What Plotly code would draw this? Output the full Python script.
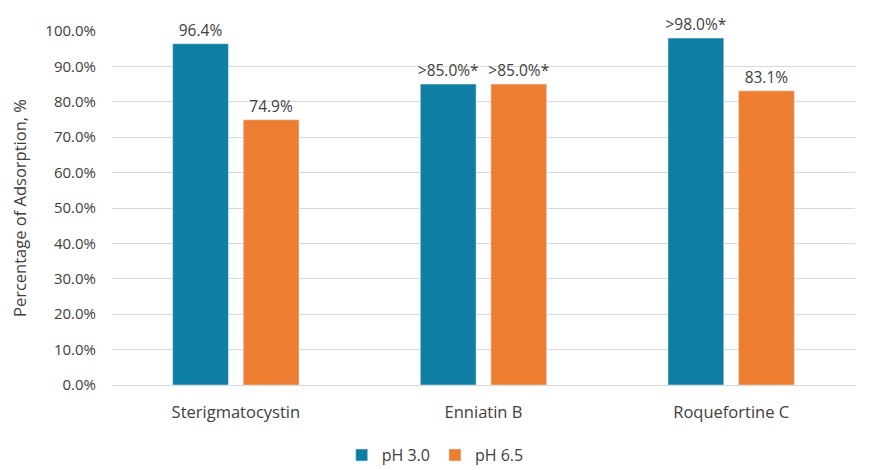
import plotly.graph_objects as go

categories = ["Sterigmatocystin", "Enniatin B", "Roquefortine C"]
ph30_values = [96.4, 85.0, 98.0]
ph65_values = [74.9, 85.0, 83.1]
ph30_labels = ["96.4%", ">85.0%*", ">98.0%*"]
ph65_labels = ["74.9%", ">85.0%*", "83.1%"]
tick_vals = [0, 10, 20, 30, 40, 50, 60, 70, 80, 90, 100]
tick_text = [f"{v:.1f}%" for v in tick_vals]

font = "Open Sans"
fig = go.Figure()
fig.add_trace(go.Bar(name="pH 3.0", x=categories, y=ph30_values, text=ph30_labels,
                     textposition="outside", marker_color="#0E7EA5", constraintext="none",
                     textfont=dict(size=15.5, color="#404040"), cliponaxis=False))
fig.add_trace(go.Bar(name="pH 6.5", x=categories, y=ph65_values, text=ph65_labels,
                     textposition="outside", marker_color="#ED7D31", constraintext="none",
                     textfont=dict(size=15.5, color="#404040"), cliponaxis=False))

fig.update_layout(
    width=869, height=462,
    margin=dict(l=104, r=22, t=23, b=85, autoexpand=False),
    paper_bgcolor="white", plot_bgcolor="white",
    barmode="group", bargap=0.43, bargroupgap=0.21,
    font=dict(family=font, size=16, color="#404040"),
    showlegend=True,
    legend=dict(orientation="h", x=0.435, xanchor="center", y=-0.198, yanchor="middle",
                font=dict(size=16, color="#404040"), itemwidth=30, traceorder="normal"),
)
fig.update_yaxes(range=[0, 100], tickvals=tick_vals, ticktext=tick_text,
                 showgrid=True, gridcolor="#D9D9D9", gridwidth=1, zeroline=False,
                 showline=False, ticks="", ticklabelstandoff=15, automargin=False,
                 tickfont=dict(size=15, color="#404040"),
                 title=dict(text="Percentage of Adsorption, %", font=dict(size=16.5, color="#404040"), standoff=16))
fig.update_xaxes(showline=True, linecolor="#D9D9D9", linewidth=1, ticks="", automargin=False,
                 ticklabelstandoff=12, tickfont=dict(size=16.5, color="#404040"))

fig.write_html("out.html")
